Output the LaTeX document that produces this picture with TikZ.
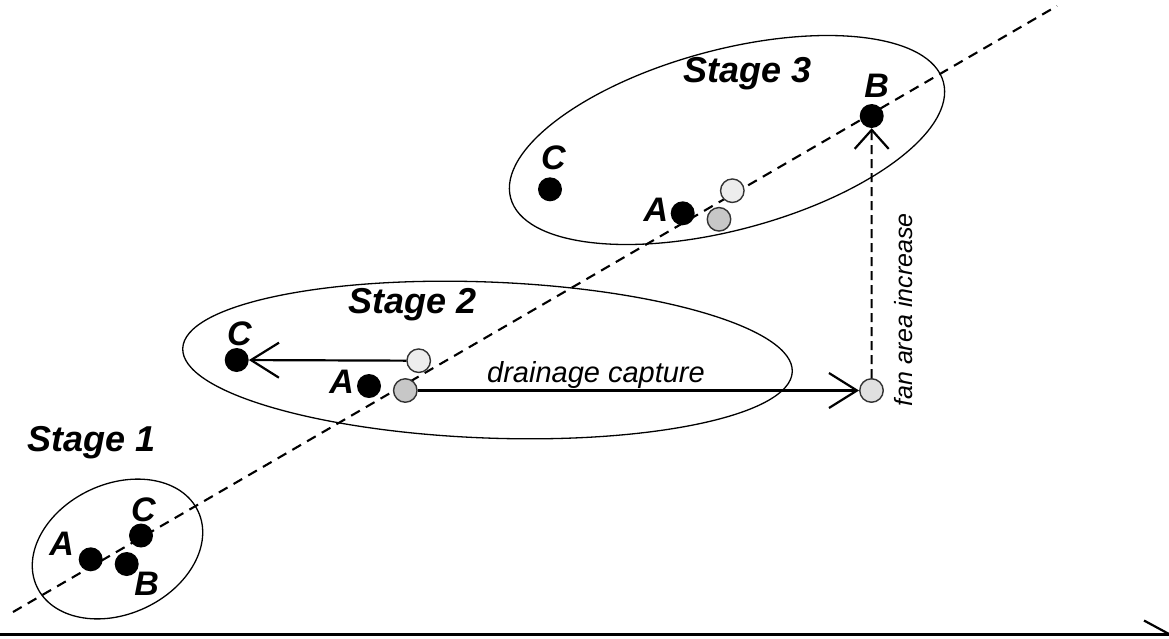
\documentclass[tikz,border=0pt]{standalone}
\usepackage{fontspec}
\setmainfont{Liberation Sans}
\usetikzlibrary{arrows.meta}
\tikzset{
  dot/.style={circle,fill=black,inner sep=0pt,minimum size=24pt},
  opencirc/.style={circle,draw=black!80,line width=1.4pt,inner sep=0pt,minimum size=23.5pt},
  lightc/.style={opencirc,fill=black!7},
  grayc/.style={opencirc,fill=black!22},
  fanc/.style={opencirc,fill=black!12},
  letter/.style={font=\fontsize{34}{34}\selectfont\bfseries\itshape,inner sep=0pt},
  stagelbl/.style={font=\fontsize{36}{36}\selectfont\bfseries\itshape,inner sep=0pt},
  ann/.style={font=\fontsize{29}{29}\selectfont\itshape,inner sep=0pt},
  annv/.style={font=\fontsize{25}{25}\selectfont\itshape,inner sep=0pt},
  ring/.style={line width=1.3pt},
  axisline/.style={line width=2.1pt,dash pattern=on 10pt off 7pt},
  arr/.style={line width=2.2pt,-{Straight Barb[length=28pt,width=35pt,line width=2.2pt]}},
}
\begin{document}
\begin{tikzpicture}[x=1pt,y=-1pt]
\useasboundingbox (0,0) rectangle (1169,638);
% ellipses
\draw[ring,rotate around={25:(117.5,549)}] (117.5,549) ellipse [x radius=89,y radius=65];
\draw[ring,rotate around={-2.2:(487.5,360)}] (487.5,360) ellipse [x radius=305,y radius=78];
\draw[ring,rotate around={15:(727,140)}] (727,140) ellipse [x radius=224,y radius=90];
% main dashed axis
\coordinate (d1) at (13,612);
\coordinate (d2) at (1057,6);
\draw[axisline] (d1) -- (d2);
% stage 1
\node[stagelbl] (st1) at (91.5,443) {Stage 1};
\node[dot] (s1A) at (90.7,559.3) {};
\node[dot] (s1C) at (141,535.5) {};
\node[dot] (s1B) at (126.7,564) {};
\node[letter] (s1Al) at (61.7,543.3) {A};
\node[letter] (s1Cl) at (143.3,510) {C};
\node[letter] (s1Bl) at (146.7,583.3) {B};
% stage 2
\node[stagelbl] (st2) at (413,305) {Stage 2};
\node[dot] (s2C) at (236.7,360) {};
\node[letter] (s2Cl) at (239.3,333.3) {C};
\node[dot] (s2A) at (369,386) {};
\node[letter] (s2Al) at (341.7,381.7) {A};
\node[lightc] (s2L) at (418.7,360.7) {};
\node[grayc] (s2G) at (405.3,390.5) {};
\node[fanc] (fan) at (871.5,390.5) {};
\draw[arr] (s2L) -- (s2C);
\draw[arr] (s2G) -- (fan);
\node[ann] (cap) at (596,375) {drainage capture};
% stage 3
\node[stagelbl] (st3) at (748,74) {Stage 3};
\node[dot] (s3C) at (550,189.3) {};
\node[letter] (s3Cl) at (553.3,158) {C};
\node[dot] (s3A) at (682.7,213.3) {};
\node[letter] (s3Al) at (656,209.3) {A};
\node[lightc] (s3L) at (732.3,190.7) {};
\node[grayc] (s3G) at (719,219.3) {};
\node[dot] (s3B) at (871.7,116) {};
\node[letter] (s3Bl) at (876.7,86) {B};
\draw[line width=2pt,dash pattern=on 9pt off 5pt,-{Straight Barb[length=19pt,width=34pt,line width=2.2pt]}] (fan) -- (s3B);
\node[annv,rotate=90] (fai) at (904,310) {fan area increase};
% frame line at bottom
\draw[line width=2.2pt] (0,634.5) -- (1169,634.5);
\draw[line width=2.2pt] (1144,620.5) -- (1169,634);
\end{tikzpicture}
\end{document}
